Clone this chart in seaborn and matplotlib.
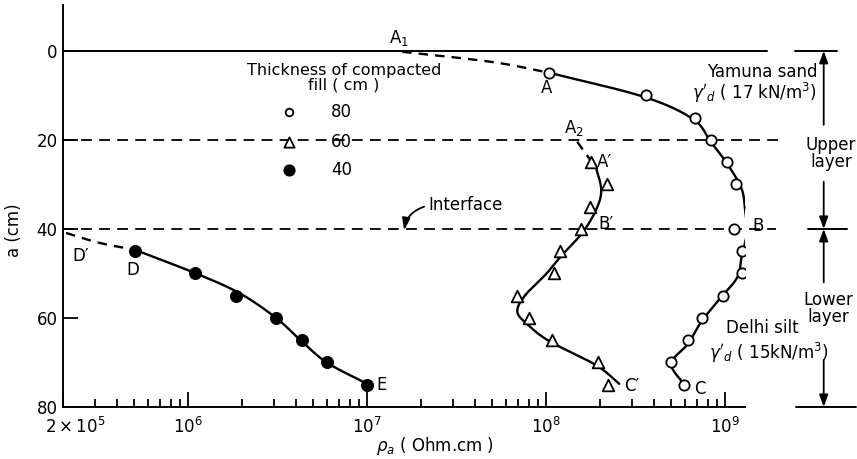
import numpy as np
import pandas as pd
import matplotlib
matplotlib.use("Agg")
import matplotlib.pyplot as plt
import matplotlib.transforms as mtransforms
import seaborn as sns

# Measured apparent resistivity (Ohm.cm) against electrode spacing a (cm)
depth_80 = [5, 10, 15, 20, 25, 30, 35, 40, 45, 50, 55, 60, 65, 70, 75]
rho_80 = [1.04e8, 3.6e8, 6.8e8, 8.3e8, 1.03e9, 1.15e9, 1.4e9, 1.12e9,
          1.24e9, 1.24e9, 9.7e8, 7.4e8, 6.2e8, 5.0e8, 5.9e8]

depth_60 = [25, 30, 35, 40, 45, 50, 55, 60, 65, 70, 75]
rho_60 = [1.78e8, 2.2e8, 1.76e8, 1.57e8, 1.2e8, 1.11e8, 6.9e7, 8.0e7,
          1.08e8, 1.95e8, 2.22e8]

depth_40 = [45, 50, 55, 60, 65, 70, 75]
rho_40 = [5.06e5, 1.09e6, 1.85e6, 3.1e6, 4.35e6, 6.0e6, 1.0e7]

# Hand-fitted trend curves through each set
curve_80_a = [4.9, 10.3, 15.3, 20.4, 25.2, 30.8, 35.5, 40.9, 45.8,
              50.8, 55.3, 60.7, 65.8, 70.3, 75.3]
curve_80_rho = [1.04e8, 3.5e8, 6.6e8, 8.3e8, 1.02e9, 1.23e9, 1.29e9,
                1.32e9, 1.24e9, 1.17e9, 9.5e8, 7.4e8, 6.2e8, 5.0e8, 6.0e8]

curve_60_a = [25.6, 31.2, 35.7, 40.9, 45.8, 50.1, 55.0, 58.6, 61.5, 65.2,
              70.6, 74.8]
curve_60_rho = [1.88e8, 2.03e8, 1.9e8, 1.59e8, 1.23e8, 1.0e8, 7.6e7, 6.9e7,
                7.9e7, 1.04e8, 1.9e8, 2.56e8]

curve_40_a = [44.7, 49.9, 54.4, 60.0, 65.4, 70.1, 74.8]
curve_40_rho = [5.06e5, 1.09e6, 1.93e6, 3.1e6, 4.35e6, 6.0e6, 1.0e7]

# Extrapolated (dashed) parts towards the layer boundaries
ext_80_a = [0.2, 2.5, 4.9]
ext_80_rho = [1.57e7, 5.0e7, 1.04e8]
ext_60_a = [20.4, 25.0]
ext_60_rho = [1.49e8, 1.8e8]
ext_40_a = [40.9, 43.1, 44.7]
ext_40_rho = [2.08e5, 3.18e5, 5.06e5]

layer_depths = [0, 20, 40]
x_ticks = [2e5, 1e6, 1e7, 1e8, 1e9]
x_ticklabels = [r"$2\times10^5$", r"$10^6$", r"$10^7$", r"$10^8$", r"$10^9$"]
y_ticks = [0, 20, 40, 60, 80]
legend_labels = ["80", "60", "40"]


def smooth_path(rho, a, n=16):
    """Catmull-Rom path through the curve nodes, in log-rho space."""
    p = np.column_stack([np.log10(rho), a])
    p = np.vstack([2 * p[0] - p[1], p, 2 * p[-1] - p[-2]])
    out = []
    t = np.linspace(0, 1, n, endpoint=False)[:, None]
    for i in range(1, len(p) - 2):
        p0, p1, p2, p3 = p[i - 1], p[i], p[i + 1], p[i + 2]
        seg = 0.5 * ((2 * p1) + (-p0 + p2) * t
                     + (2 * p0 - 5 * p1 + 4 * p2 - p3) * t ** 2
                     + (-p0 + 3 * p1 - 3 * p2 + p3) * t ** 3)
        out.append(seg)
    out.append(p[-2][None, :])
    out = np.vstack(out)
    return pd.DataFrame({"rho": 10 ** out[:, 0], "a": out[:, 1]})


sns.set_theme(style="white")
plt.rcParams["font.family"] = ["DejaVu Sans"]
plt.rcParams["mathtext.fontset"] = "dejavusans"
ink = "black"
plt.rcParams.update({"text.color": ink, "axes.labelcolor": ink,
                     "xtick.color": ink, "ytick.color": ink})

fig = plt.figure(figsize=(8.57, 4.59), dpi=100)
ax = fig.add_axes([0.0735, 0.1133, 0.7958, 0.8757])
ax.set_xscale("log")
ax.set_xlim(2e5, 1.29e9)
ax.set_ylim(80, -10.3)

lw = 1.7

# Layer boundaries
ax.plot([2e5, 1.72e9], [layer_depths[0]] * 2, color=ink, lw=1.4, clip_on=False)
ax.plot([2e5, 2.05e9], [layer_depths[1]] * 2, color=ink, lw=1.3,
        ls=(0, (6, 4)), clip_on=False)
ax.plot([2e5, 1.93e9], [layer_depths[2]] * 2, color=ink, lw=1.3,
        ls=(0, (6, 4)), clip_on=False)

# Trend curves
for rr, aa in [(curve_80_rho, curve_80_a), (curve_60_rho, curve_60_a),
               (curve_40_rho, curve_40_a)]:
    sns.lineplot(data=smooth_path(rr, aa), x="rho", y="a", sort=False,
                 estimator=None, color=ink, lw=lw, ax=ax)
for rr, aa in [(ext_80_rho, ext_80_a), (ext_60_rho, ext_60_a),
               (ext_40_rho, ext_40_a)]:
    sns.lineplot(data=smooth_path(rr, aa), x="rho", y="a", sort=False,
                 estimator=None, color=ink, lw=lw, ax=ax,
                 linestyle=(0, (4, 3)))

# Measured points
df80 = pd.DataFrame({"rho": rho_80, "a": depth_80})
df60 = pd.DataFrame({"rho": rho_60, "a": depth_60})
df40 = pd.DataFrame({"rho": rho_40, "a": depth_40})
sns.scatterplot(data=df80, x="rho", y="a", marker="o", s=55,
                facecolor="white", edgecolor=ink, linewidth=1.3, ax=ax, zorder=5)
sns.scatterplot(data=df60, x="rho", y="a", marker="^", s=70,
                facecolor="white", edgecolor=ink, linewidth=1.3, ax=ax, zorder=5)
sns.scatterplot(data=df40, x="rho", y="a", marker="o", s=75,
                color=ink, edgecolor=ink, ax=ax, zorder=5)

# Axes styling
for side in ["top", "right"]:
    ax.spines[side].set_visible(False)
for side in ["left", "bottom"]:
    ax.spines[side].set_color(ink)
    ax.spines[side].set_linewidth(1.4)

ax.set_xticks(x_ticks)
ax.set_xticklabels(x_ticklabels)
minor = [m * 10 ** e for e in range(5, 9) for m in range(2, 10)
         if 2e5 < m * 10 ** e < 1e9 and m * 10 ** e not in x_ticks]
ax.set_xticks(minor, minor=True)
ax.set_xticklabels([], minor=True)
ax.set_yticks(y_ticks)
ax.set_yticklabels([str(v) for v in y_ticks])
ax.tick_params(axis="x", which="major", direction="in", length=11, width=1.3,
               labelsize=12, pad=7)
ax.tick_params(axis="x", which="minor", direction="in", length=6, width=1.3)
ax.tick_params(axis="y", which="major", direction="in", length=11, width=1.3,
               labelsize=12, pad=4)
ax.tick_params(bottom=True, left=True, which="both")
shift = mtransforms.ScaledTranslation(12 / 100, 0, fig.dpi_scale_trans)
first = ax.get_xticklabels()[0]
first.set_transform(first.get_transform() + shift)

ax.set_xlabel("")
ax.set_ylabel("a (cm)", fontsize=12)
ax.yaxis.set_label_coords(-0.058, 0.44)
ax.text(0.545, -0.097, r"$\rho_a$ ( Ohm.cm )", transform=ax.transAxes,
        ha="center", va="center", fontsize=12)

fs = 12
# Point labels
ax.text(1.51e7, -2.9, r"A$_1$", fontsize=fs, ha="center", va="center")
ax.text(1.01e8, 8.4, "A", fontsize=fs, ha="center", va="center")
ax.text(1.43e8, 17.3, r"A$_2$", fontsize=fs, ha="center", va="center")
ax.text(1.93e8, 25.0, "A′", fontsize=fs, ha="left", va="center")
ax.text(1.95e8, 38.9, "B′", fontsize=fs, ha="left", va="center")
ax.text(1.41e9, 39.4, "B", fontsize=fs, ha="left", va="center")
ax.text(2.73e8, 75.3, "C′", fontsize=fs, ha="left", va="center")
ax.text(6.7e8, 76.0, "C", fontsize=fs, ha="left", va="center")
ax.text(2.25e5, 46.0, "D′", fontsize=fs, ha="left", va="center")
ax.text(4.9e5, 49.3, "D", fontsize=fs, ha="center", va="center")
ax.text(1.12e7, 75.0, "E", fontsize=fs, ha="left", va="center")

# Soil descriptions
ax.text(3.27e9, 4.7, "Yamuna sand", fontsize=fs, ha="right", va="center",
        clip_on=False)
ax.text(3.27e9, 9.4, r"$\gamma'_d$ ( 17 kN/m$^3$)", fontsize=fs, ha="right",
        va="center", clip_on=False)
ax.text(1.61e9, 62.2, "Delhi silt", fontsize=fs, ha="center", va="center",
        clip_on=False)
ax.text(1.76e9, 67.9, r"$\gamma'_d$ ( 15kN/m$^3$)", fontsize=fs,
        ha="center", va="center", clip_on=False)
ax.text(3.9e9, 23.0, "Upper\nlayer", fontsize=fs, ha="center", va="center",
        linespacing=0.95, clip_on=False)
ax.text(3.75e9, 57.8, "Lower\nlayer", fontsize=fs, ha="center", va="center",
        linespacing=0.95, clip_on=False)

# Layer thickness markers on the right
ax.plot([2.44e9, 4.2e9], [0, 0], color=ink, lw=1.4, clip_on=False)
ax.plot([2.9e9, 4.8e9], [40, 40], color=ink, lw=1.4, clip_on=False)
ax.plot([2.5e9, 5.4e9], [80, 80], color=ink, lw=1.4, clip_on=False)
arrow_kw = dict(arrowstyle="-|>,head_length=0.6,head_width=0.22", color=ink,
                lw=1.3, shrinkA=0, shrinkB=0)
for y0, y1 in [(16.6, 0), (29.4, 40), (52.0, 40), (69.4, 80)]:
    ax.annotate("", xy=(3.55e9, y1), xytext=(3.55e9, y0),
                arrowprops=arrow_kw, annotation_clip=False)

# Interface label
ax.text(2.19e7, 34.6, "Interface", fontsize=fs, ha="left", va="center")
ax.annotate("", xy=(1.61e7, 40.3), xytext=(2.08e7, 35.0),
            arrowprops=dict(arrowstyle="-|>,head_length=0.6,head_width=0.2",
                            color=ink, lw=1.3, shrinkA=0, shrinkB=0,
                            connectionstyle="arc3,rad=0.3"))

# Legend for fill thickness
ax.text(7.4e6, 6.0, "Thickness of compacted\nfill ( cm )", fontsize=11.5,
        ha="center", va="center", linespacing=0.9)
leg_x = [3.66e6, 3.66e6, 3.66e6]
leg_y = [13.7, 20.4, 26.7]
ax.scatter(leg_x[0], leg_y[0], marker="o", s=30, facecolor="white",
           edgecolor=ink, linewidth=1.3, zorder=5)
ax.scatter(leg_x[1], leg_y[1], marker="^", s=55, facecolor="white",
           edgecolor=ink, linewidth=1.3, zorder=5)
ax.scatter(leg_x[2], leg_y[2], marker="o", s=60, color=ink, zorder=5)
for yy, lab in zip(leg_y, legend_labels):
    ax.text(6.3e6, yy, lab, fontsize=fs, ha="left", va="center")

fig.savefig("out.png", dpi=100, facecolor="white")
